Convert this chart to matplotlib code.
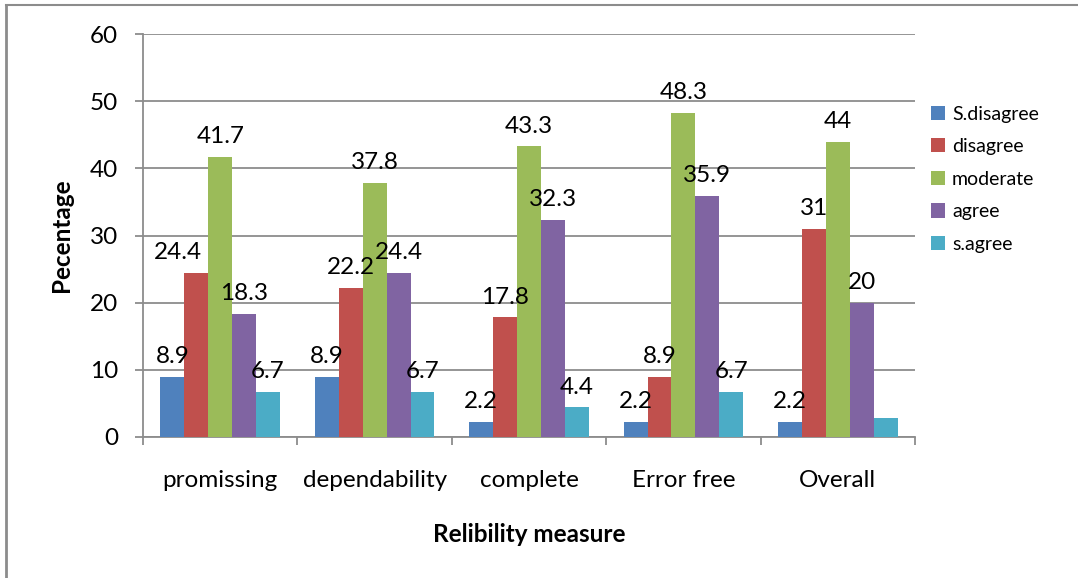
import matplotlib.pyplot as plt
import numpy as np
from matplotlib.lines import Line2D

plt.rcParams['font.family'] = ['Lato', 'DejaVu Sans']

categories = ['promissing', 'dependability', 'complete', 'Error free', 'Overall']
series = ['S.disagree', 'disagree', 'moderate', 'agree', 's.agree']
s_disagree = [8.9, 8.9, 2.2, 2.2, 2.2]
disagree = [24.4, 22.2, 17.8, 8.9, 31]
moderate = [41.7, 37.8, 43.3, 48.3, 44]
agree = [18.3, 24.4, 32.3, 35.9, 20]
s_agree = [6.7, 6.7, 4.4, 6.7, 2.8]
values = [s_disagree, disagree, moderate, agree, s_agree]
# the last bar (Overall, s.agree) has no label in the original
show_label = [[True] * 5, [True] * 5, [True] * 5, [True] * 5, [True, True, True, True, False]]

colors = ['#4F81BD', '#C0504D', '#9BBB59', '#8064A2', '#4BACC6']

fig = plt.figure(figsize=(10.78, 5.78), dpi=100)
ax = fig.add_axes([0.1327, 0.244, 0.7161, 0.697])

x = np.arange(len(categories))
w = 0.155
for i, (name, vals) in enumerate(zip(series, values)):
    xs = x + (i - 2) * w
    ax.bar(xs, vals, width=w, color=colors[i], label=name, zorder=3)
    for j, (xx, v) in enumerate(zip(xs, vals)):
        if not show_label[i][j]:
            continue
        dx = 0
        if i == 1 and j == 0:
            dx = -13  # Excel nudged this one to the left
        ax.annotate('{:g}'.format(v), (xx, v), xytext=(dx, 7), textcoords='offset points',
                    ha='center', va='bottom', fontsize=17.5, zorder=4)

ax.set_xlim(-0.5, 4.5)
ax.set_ylim(0, 60)
ax.set_yticks(range(0, 61, 10))
ax.yaxis.grid(True, color='#8c8c8c', linewidth=1.3, zorder=0)
ax.set_xticks(x)
ax.set_xticklabels(categories)
ax.set_xticks(np.arange(-0.5, 5, 1), minor=True)
ax.tick_params(axis='x', which='major', length=0, pad=24, labelsize=17.5)
ax.tick_params(axis='x', which='minor', length=6, color='#8c8c8c', width=1.3)
ax.tick_params(axis='y', length=6, color='#8c8c8c', width=1.3, pad=12, labelsize=17.5)

for side in ['top', 'right']:
    ax.spines[side].set_visible(False)
for side in ['left', 'bottom']:
    ax.spines[side].set_color('#8c8c8c')
    ax.spines[side].set_linewidth(1.3)

ax.set_ylabel('Pecentage', fontsize=17.5, fontweight='bold', labelpad=12)
ax.set_xlabel('Relibility measure', fontsize=17.5, fontweight='bold', labelpad=23)

ax.legend(loc='center left', bbox_to_anchor=(0.847, 0.69), bbox_transform=fig.transFigure,
          frameon=False, fontsize=14, handlelength=0.75, handleheight=0.75,
          labelspacing=0.8, handletextpad=0.35)

# chart area border (left and top edges visible)
fig.add_artist(Line2D([0.0056, 0.0056], [0.0, 0.991], color='#8c8c8c', linewidth=2,
                      transform=fig.transFigure))
fig.add_artist(Line2D([0.0056, 1.0], [0.991, 0.991], color='#8c8c8c', linewidth=1.5,
                      transform=fig.transFigure))

fig.savefig('out.png', dpi=100)
